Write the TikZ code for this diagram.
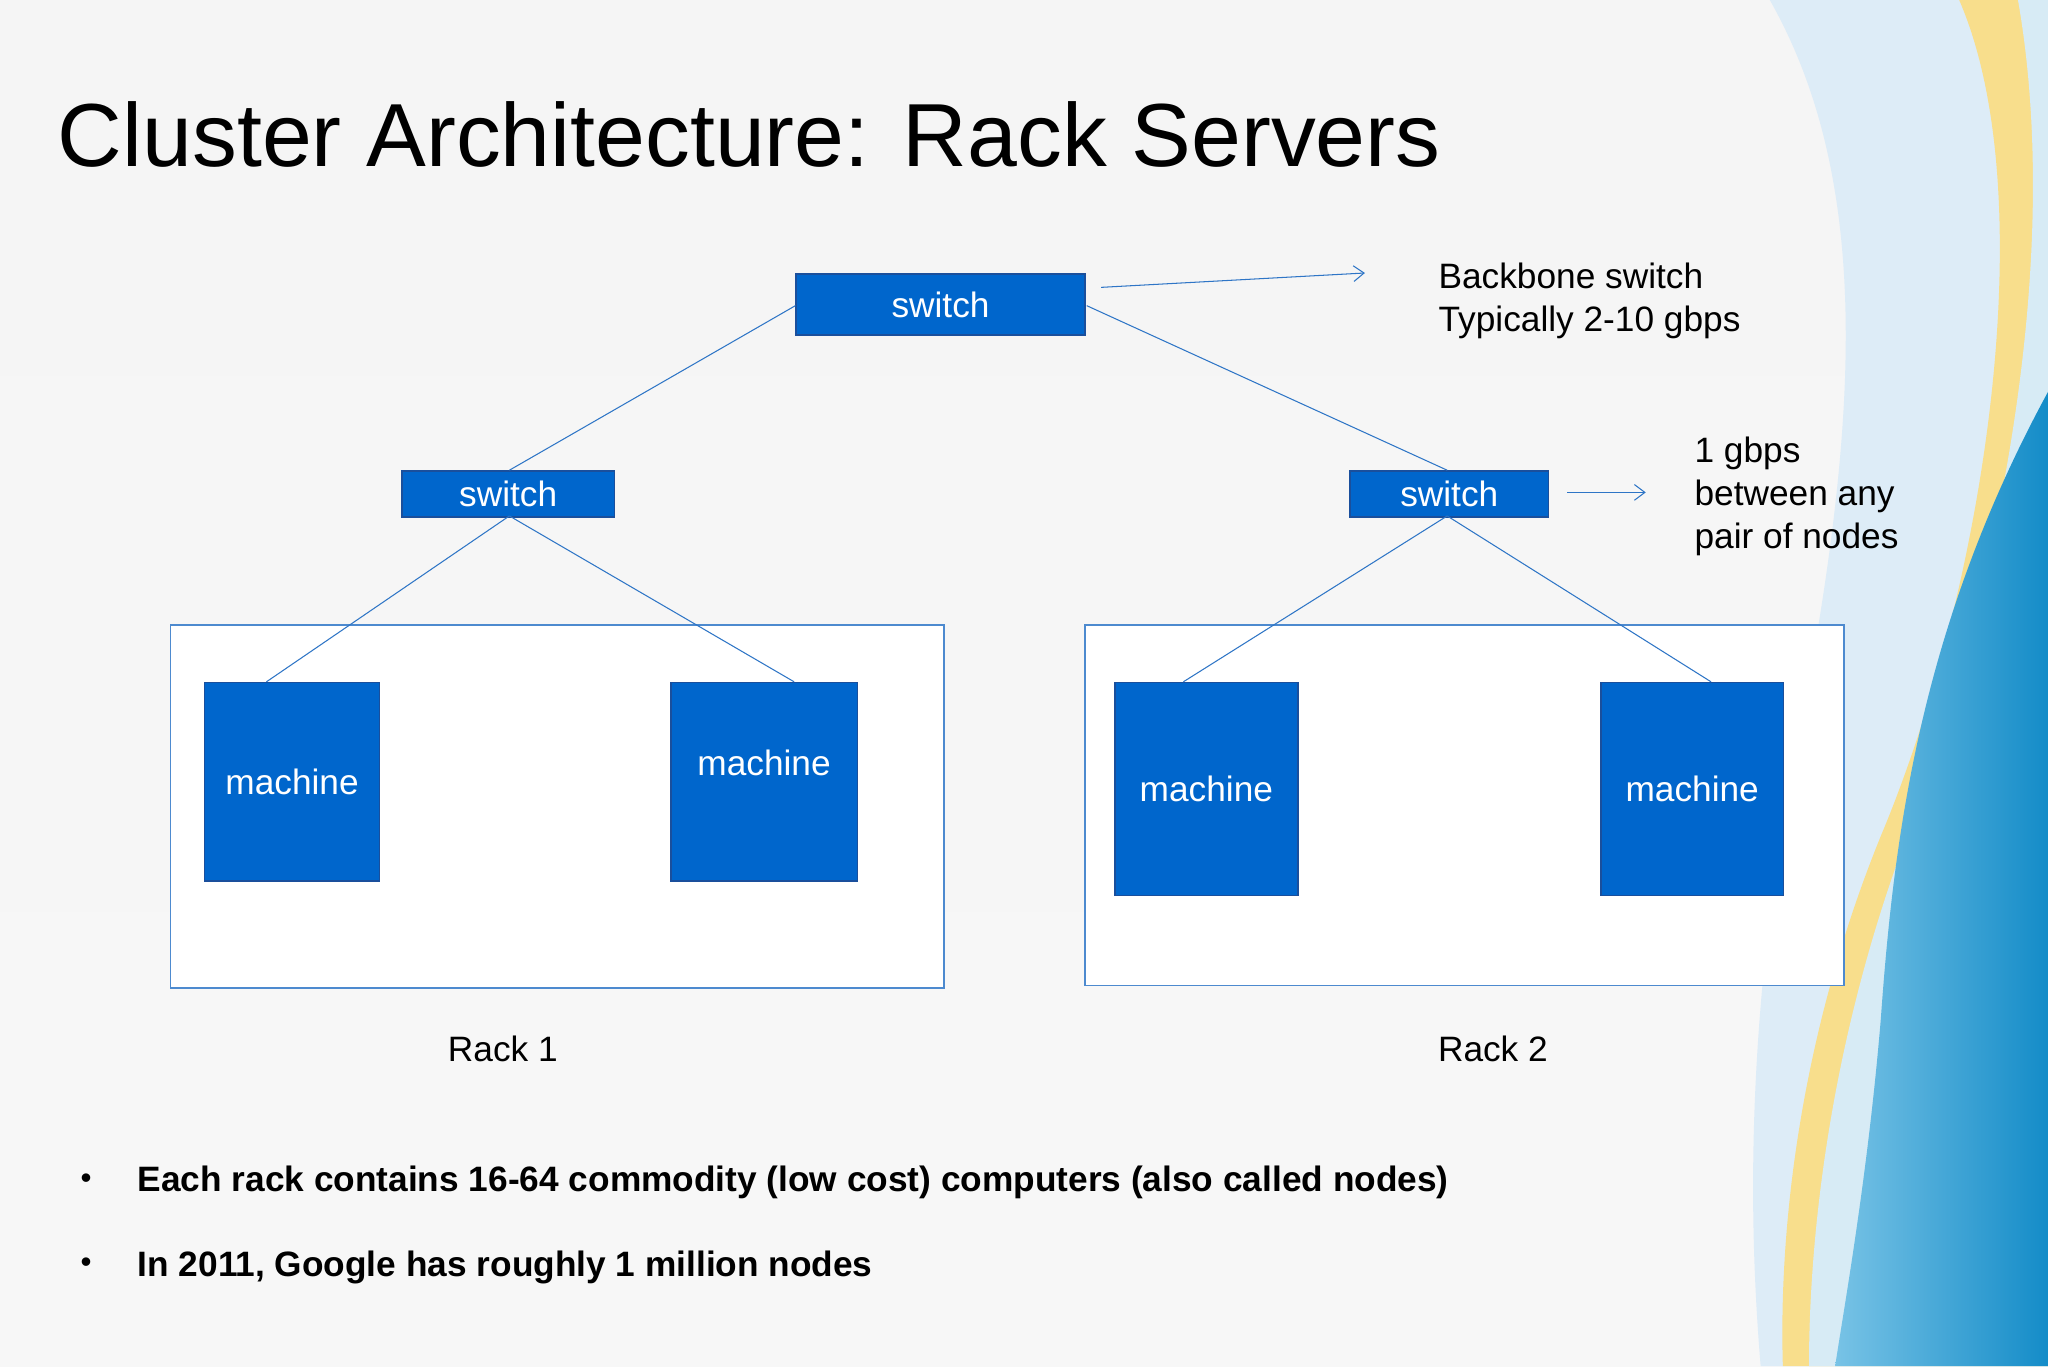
\documentclass[tikz,border=0pt]{standalone}
\usepackage{fontspec}
\setmainfont{Liberation Sans}
\usetikzlibrary{arrows.meta}
\definecolor{boxblue}{HTML}{0066CC}
\definecolor{boxedge}{HTML}{1A4F9C}
\definecolor{linec}{HTML}{2E75C6}
\begin{document}
\begin{tikzpicture}[x=0.5pt,y=-0.5pt,
  box/.style={draw=boxedge,line width=0.6pt,fill=boxblue,text=white,font=\fontsize{13.5}{15}\selectfont,inner sep=0pt,anchor=north west},
  rack/.style={draw=linec!85,line width=0.6pt,fill=white,anchor=north west,inner sep=0pt},
  conn/.style={draw=linec,line width=0.4pt},
  arr/.style={draw=linec,line width=0.4pt,-{Straight Barb[length=4pt,width=6pt]}},
  txt/.style={font=\fontsize{13.5}{16.5}\selectfont,align=left,anchor=north west,inner sep=0pt}]
\useasboundingbox (0,0) rectangle (1568,1046);
\shade[top color=white!96!black,bottom color=white!97!black] (0,0) rectangle (1568,1046);
% right decoration
\fill[color={rgb,255:red,221;green,236;blue,247}] (1355,0) .. controls (1440,150) and (1420,350) .. (1370,600) .. controls (1335,800) and (1340,950) .. (1348,1046) -- (1568,1046) -- (1568,0) -- cycle;
\fill[color={rgb,255:red,248;green,222;blue,140}] (1500,0) .. controls (1565,150) and (1520,450) .. (1440,640) .. controls (1375,800) and (1362,950) .. (1365,1046) -- (1568,1046) -- (1568,0) -- cycle;
\fill[color={rgb,255:red,215;green,235;blue,245}] (1545,0) .. controls (1580,200) and (1530,450) .. (1460,640) .. controls (1400,800) and (1385,950) .. (1385,1046) -- (1568,1046) -- (1568,0) -- cycle;
\shade[left color={rgb,255:red,120;green,195;blue,230},right color={rgb,255:red,20;green,140;blue,200}] (1568,300) .. controls (1470,480) and (1450,640) .. (1440,780) .. controls (1430,900) and (1412,1000) .. (1405,1046) -- (1568,1046) -- cycle;
% title
\node[anchor=west,inner sep=0pt,font=\fontsize{34.3}{38}\selectfont] (title) at (44,103) {Cluster Architecture: Rack Servers};
% racks
\node[rack,minimum width=296pt,minimum height=139pt] (r1) at (130,478) {};
\node[rack,minimum width=290.5pt,minimum height=138pt] (r2) at (830,478) {};
% switches
\node[box,minimum width=110.5pt,minimum height=23.5pt] (ts) at (609,209) {switch};
\node[box,minimum width=81.5pt,minimum height=17.5pt] (ls) at (307,360) {switch};
\node[box,minimum width=76pt,minimum height=17.5pt] (rs) at (1033,360) {switch};
% machines
\node[box,minimum width=67pt,minimum height=76pt] (m1) at (156,522) {machine};
\node[box,minimum width=71.5pt,minimum height=76pt] (m2) at (513,522) {};
\node[text=white,font=\fontsize{13.5}{15}\selectfont,inner sep=0pt] (m2t) at (585,584) {machine};
\node[box,minimum width=70pt,minimum height=81.5pt] (m3) at (853,522) {machine};
\node[box,minimum width=70pt,minimum height=81.5pt] (m4) at (1225,522) {machine};
% connection points
\coordinate (tsl) at (609,234);
\coordinate (tsr) at (832,234);
\coordinate (lst) at (390,360);
\coordinate (lsb) at (390,395);
\coordinate (rst) at (1108,360);
\coordinate (rsb) at (1108,395);
\coordinate (m1t) at (204,522);
\coordinate (m2t0) at (608,522);
\coordinate (m3t) at (906,522);
\coordinate (m4t) at (1310,522);
\path[conn] (tsl) -- (lst);
\path[conn] (tsr) -- (rst);
\path[conn] (lsb) -- (m1t);
\path[conn] (lsb) -- (m2t0);
\path[conn] (rsb) -- (m3t);
\path[conn] (rsb) -- (m4t);
% arrows
\coordinate (a1s) at (843,220);
\coordinate (a1e) at (1045,209);
\coordinate (a2s) at (1200,377);
\coordinate (a2e) at (1260,377);
\path[arr] (a1s) -- (a1e);
\path[arr] (a2s) -- (a2e);
% texts
\node[txt] (bb) at (1101,201) {Backbone switch\\Typically 2-10 gbps};
\node[txt] (gb) at (1297,334) {1 gbps\\between any\\pair of nodes};
\node[font=\fontsize{13.5}{15}\selectfont,inner sep=0pt] (rk1) at (385,803) {Rack 1};
\node[font=\fontsize{13.5}{15}\selectfont,inner sep=0pt] (rk2) at (1143,803) {Rack 2};
\node[inner sep=0pt,font=\fontsize{12}{14}\selectfont] (b1) at (66,904) {•};
\node[inner sep=0pt,font=\fontsize{12}{14}\selectfont] (b2) at (66,969) {•};
\node[anchor=west,inner sep=0pt,font=\fontsize{13.5}{15}\bfseries] (t1) at (105,905) {Each rack contains 16-64 commodity (low cost) computers (also called nodes)};
\node[anchor=west,inner sep=0pt,font=\fontsize{13.5}{15}\bfseries] (t2) at (105,970) {In 2011, Google has roughly 1 million nodes};
\end{tikzpicture}
\end{document}
